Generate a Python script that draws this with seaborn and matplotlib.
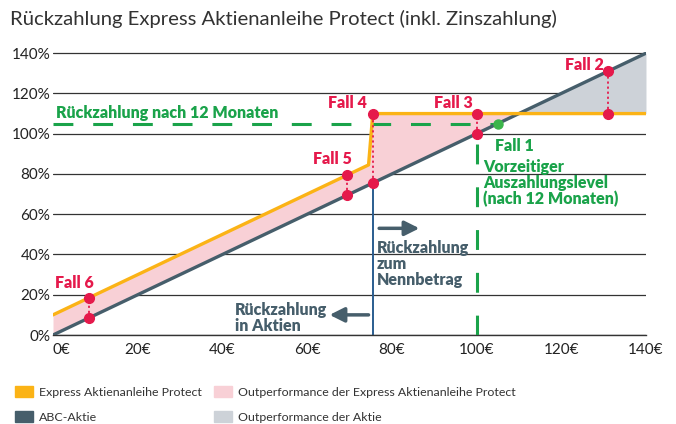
import numpy as np
import pandas as pd
import matplotlib
matplotlib.use("Agg")
import matplotlib.pyplot as plt
from matplotlib.patches import Patch
import seaborn as sns

# chart data (x = share price in EUR, y = payout in % of nominal)
stock_x = [0, 140]
stock_y = [0, 140]
product_x = [0, 74.5, 75.5, 140]
product_y = [10, 84.5, 110, 110]

case_names = ["Fall 1", "Fall 2", "Fall 3", "Fall 4", "Fall 5", "Fall 6"]
case_x = [105, 131, 100, 75.5, 69.5, 8.5]
case_top = [105, 131, 110, 110, 79.5, 18.5]
case_bottom = [105, 110, 100, 75.5, 69.5, 8.5]
label_pos = [(109, 94), (125.5, 134), (94.5, 115.5), (69.5, 115.5), (66, 87.5), (5, 26)]

early_level = 105
barrier = 75.5
strike = 100

x_ticks = [0, 20, 40, 60, 80, 100, 120, 140]
x_labels = ["0€", "20€", "40€", "60€", "80€", "100€", "120€", "140€"]
y_ticks = [0, 20, 40, 60, 80, 100, 120, 140]
y_labels = ["0%", "20%", "40%", "60%", "80%", "100%", "120%", "140%"]

YELLOW = "#fbb316"
SLATE = "#465e6b"
PINK = "#f8d0d6"
GREY = "#cdd2d8"
RED = "#e5194b"
GREEN = "#1aa34a"
BLUE = "#2a5d8f"

sns.set_style("white")
plt.rcParams["font.family"] = ["Lato", "DejaVu Sans"]

fig = plt.figure(figsize=(6.76, 4.24), dpi=100)
ax = fig.add_axes([0.0784, 0.2099, 0.8772, 0.6675])

# fill areas between the two payoff lines
grid_x = np.linspace(0, 140, 1401)
prod_i = np.interp(grid_x, product_x, product_y)
stock_i = np.interp(grid_x, stock_x, stock_y)
ax.fill_between(grid_x, stock_i, prod_i, where=prod_i >= stock_i, color=PINK, lw=0, interpolate=True, zorder=1)
ax.fill_between(grid_x, prod_i, stock_i, where=stock_i >= prod_i, color=GREY, lw=0, interpolate=True, zorder=1)

# green early redemption markers
ax.plot([0, case_x[0]], [early_level, early_level], color=GREEN, lw=2.2, dashes=(6.5, 6.5), zorder=3)
ax.plot([strike, strike], [0, strike], color=GREEN, lw=2.2, dashes=(6.5, 7.5), zorder=3)

# barrier line
ax.plot([barrier, barrier], [0, barrier], color=BLUE, lw=1.4, zorder=2)

df_stock = pd.DataFrame({"x": stock_x, "y": stock_y})
df_prod = pd.DataFrame({"x": product_x, "y": product_y})
sns.lineplot(data=df_stock, x="x", y="y", color=SLATE, lw=2.4, ax=ax, zorder=4)
sns.lineplot(data=df_prod, x="x", y="y", color=YELLOW, lw=2.4, ax=ax, zorder=4, sort=False)

BOLD = "heavy"

# case markers
for i, name in enumerate(case_names):
    if name == "Fall 1":
        ax.plot(case_x[i], case_top[i], "o", color="#3cb54a", ms=6.5, zorder=6)
        ax.text(*label_pos[i], name, color=GREEN, fontsize=11.5, fontweight=BOLD, ha="center", va="center")
        continue
    ax.plot([case_x[i], case_x[i]], [case_bottom[i], case_top[i]], color=RED, lw=1.3, ls=(0, (1.2, 1.6)), zorder=5)
    ax.plot([case_x[i], case_x[i]], [case_bottom[i], case_top[i]], "o", color=RED, ms=7, zorder=6)
    ax.text(*label_pos[i], name, color=RED, fontsize=11.5, fontweight=BOLD, ha="center", va="center")

# annotations
ax.text(0.7, 110.5, "Rückzahlung nach 12 Monaten", color=GREEN, fontsize=11.5, fontweight=BOLD, va="center")
ax.text(101.5, 87.5, "Vorzeitiger\nAuszahlungslevel\n(nach 12 Monaten)", color=GREEN, fontsize=11.5,
        fontweight=BOLD, va="top", linespacing=1.0)
ax.text(76.5, 47, "Rückzahlung\nzum\nNennbetrag", color=SLATE, fontsize=11.5, fontweight=BOLD,
        va="top", linespacing=1.0)
ax.text(43, 16.5, "Rückzahlung\nin Aktien", color=SLATE, fontsize=11.5, fontweight=BOLD,
        va="top", linespacing=1.0)
arrow = dict(arrowstyle="-|>", lw=2.5, color=SLATE, mutation_scale=22, shrinkA=0, shrinkB=0)
ax.annotate("", xy=(86.5, 53), xytext=(77, 53), arrowprops=arrow)
ax.annotate("", xy=(65.3, 10), xytext=(74.5, 10), arrowprops=arrow)

ax.set_xlim(0, 140)
ax.set_ylim(0, 140.6)
ax.set_xticks(x_ticks)
ax.set_xticklabels(x_labels, fontsize=11, color="#222222")
ax.get_xticklabels()[0].set_horizontalalignment("left")
ax.set_yticks(y_ticks)
ax.set_yticklabels(y_labels, fontsize=11, color="#222222")
ax.grid(axis="y", color="#333333", lw=0.9)
ax.set_axisbelow(True)
for s in ["top", "right", "left"]:
    ax.spines[s].set_visible(False)
ax.spines["bottom"].set_color("#333333")
ax.spines["bottom"].set_linewidth(1.0)
ax.tick_params(axis="x", direction="out", length=4, width=1, color="#333333", pad=2)
ax.tick_params(axis="y", length=0, pad=2)
ax.set_xlabel("")
ax.set_ylabel("")

fig.text(0.015, 0.955, "Rückzahlung Express Aktienanleihe Protect (inkl. Zinszahlung)", fontsize=14.6,
         color="#333333", va="center")

leg_kw = dict(loc="lower left", frameon=False, fontsize=8.9, handlelength=1.46, handleheight=1.05,
              handletextpad=0.5, labelspacing=1.05, labelcolor="#333333", borderaxespad=0, borderpad=0)
leg1 = fig.legend(handles=[Patch(color=YELLOW, label="Express Aktienanleihe Protect"),
                           Patch(color=SLATE, label="ABC-Aktie")],
                  bbox_to_anchor=(0.022, 0.003), **leg_kw)
leg2 = fig.legend(handles=[Patch(color=PINK, label="Outperformance der Express Aktienanleihe Protect"),
                           Patch(color=GREY, label="Outperformance der Aktie")],
                  bbox_to_anchor=(0.316, 0.003), **leg_kw)

fig.savefig("out.png", dpi=100)
